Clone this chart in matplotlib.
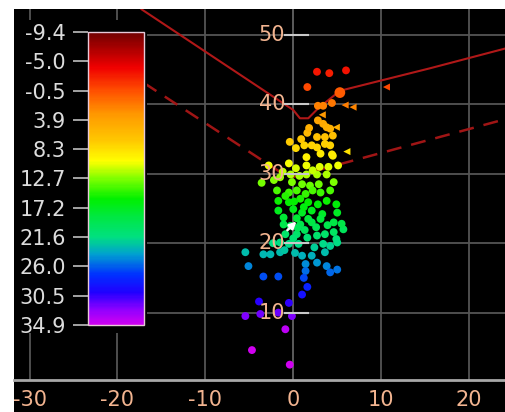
import matplotlib
matplotlib.use("Agg")
import matplotlib.pyplot as plt
from matplotlib.colors import LinearSegmentedColormap, Normalize
from matplotlib.patches import Rectangle
import matplotlib.colorbar as mcolorbar

plt.rcParams['font.family'] = ['DejaVu Sans']

# ---------------- data ----------------
x_ticks = [-30, -20, -10, 0, 10, 20]
y_ticks = [10, 20, 30, 40, 50]
cbar_ticks = [-9.4, -5.0, -0.5, 3.9, 8.3, 12.7, 17.2, 21.6, 26.0, 30.5, 34.9]
cbar_labels = ["-9.4", "-5.0", "-0.5", "3.9", "8.3", "12.7", "17.2", "21.6", "26.0", "30.5", "34.9"]

# circle points
pts_x = [2.7, 4.1, 6.0, 1.6, 2.8, 3.4, 4.4,
         2.8, 3.4, 3.8, 4.2, 1.6, 2.7, 3.6, 4.5,
         -0.4, 0.3, 1.25, 2.1, 2.7, 3.6, 4.2, 3.1, 4.4, 1.5, 4.5,
         -2.8, -0.5, 1.5, 4.0, 5.1, 2.7, 3.8, -0.3, 0.7, 1.5,
         -3.6, -2.2, -1.5, -0.15, 1.0, 1.9, 2.9, 4.6,
         -1.85, -0.5, 0.4, 1.4, 2.2, 3.1, 4.2,
         -1.7, -0.5, 0.8, 1.7, 2.8, 3.8, 4.9,
         -1.7, 0.0, 1.0, 2.1, 3.3, 5.0,
         -1.1, 0.4, 1.7,
         -1.1, 0.8, 2.1, 3.1, 4.6, 5.7,
         -0.9, 0.4, 1.6, 2.7, 3.6, 4.9,
         -1.5, -0.5, 0.6, 3.4, 4.2, 5.0,
         -3.4, -2.6, -1.5, -5.45,
         1.0, 2.1, 1.4, 2.7, 3.8, 5.0, 4.2,
         -5.1, 1.4, 1.2, -3.4, -1.7,
         1.6, 1.0, -3.9, -0.5,
         -5.45, -3.75, -1.7, -0.15, -0.9, -4.7, -0.4,
         -0.9, 0.1, 1.2, 0.5, -0.3, 1.3, 0.0, 2.4, -2.3, -1.0, 0.2,
         2.6, 3.9, 3.6, 0.3, 2.2, -1.2, 3.0, 0.9, 1.8, 5.5, 4.6]
pts_y = [44.7, 44.5, 44.9, 42.5, 39.8, 39.8, 40.2,
         37.7, 37.2, 36.7, 36.5, 35.9, 35.3, 35.3, 35.5,
         34.6, 33.7, 34.1, 34.1, 33.8, 34.3, 34.1, 32.9, 32.8, 32.4, 32.6,
         31.2, 31.5, 31.2, 31.0, 31.2, 29.9, 29.9, 29.9, 29.7, 29.9,
         28.7, 29.1, 29.5, 28.8, 28.5, 28.3, 28.5, 28.8,
         27.6, 27.3, 27.6, 27.1, 27.6, 27.3, 27.6,
         26.1, 25.9, 26.4, 25.9, 25.6, 26.1, 25.6,
         24.7, 24.9, 24.4, 24.7, 24.2, 24.4,
         23.7, 23.6, 23.5,
         22.7, 22.7, 23.0, 23.5, 23.0, 22.0,
         21.3, 21.3, 20.8, 21.1, 21.3, 20.6,
         20.1, 19.9, 19.9, 19.9, 19.6, 20.1,
         18.4, 18.4, 18.7, 18.7,
         18.2, 18.2, 17.0, 17.2, 16.7, 16.2, 15.8,
         16.7, 16.0, 15.0, 15.2, 15.2,
         13.7, 12.6, 11.6, 11.4,
         9.5, 9.8, 10.0, 9.5, 7.6, 4.6, 2.5,
         26.8, 26.0, 25.2, 22.2, 22.5, 21.9, 20.7, 19.4, 20.0, 19.0, 18.6,
         22.3, 22.6, 18.7, 30.8, 30.5, 30.3, 31.0, 35.0, 36.6, 22.8, 21.6]

# highlighted larger point
big_x = [5.3]
big_y = [41.7]

# triangle points
tri_x = [10.6, 5.9, 6.8, 3.3, 4.9, 6.1]
tri_y = [42.5, 39.9, 39.6, 38.5, 36.7, 33.2]

# fitted lines
solid_x = [-17.26, 0.0, 0.76, 1.71, 2.84, 5.31, 15.55, 24.2]
solid_y = [53.7, 39.19, 38.0, 38.0, 39.44, 41.96, 45.2, 48.08]
dash_x = [-17.0, -0.46, 24.2]
dash_y = [43.1, 29.4, 37.9]

# ---------------- style ----------------
stops = [(0.00, "#d000f0"), (0.05, "#9000ff"), (0.11, "#2000ff"), (0.17, "#0030ff"),
         (0.24, "#00a0d0"), (0.30, "#00e080"), (0.37, "#00e840"), (0.43, "#00f000"),
         (0.50, "#80ff00"), (0.56, "#ffff00"), (0.63, "#ffc800"), (0.72, "#ff9800"),
         (0.80, "#ff5000"), (0.88, "#f00000"), (1.00, "#700000")]
cmap_up = LinearSegmentedColormap.from_list("rb", stops)
ynorm = Normalize(vmin=6.8, vmax=51.1)

W, H = 506, 412
fig = plt.figure(figsize=(W / 100, H / 100), dpi=100, facecolor="white")
fig.add_artist(Rectangle((14 / W, 0), 492 / W, (H - 9.3) / H, transform=fig.transFigure,
                         facecolor="black", edgecolor="none", zorder=-5))

ax = fig.add_axes([14 / W, (H - 380) / H, 492 / W, (380 - 9.3) / H])
ax.set_facecolor("black")
ax.set_xlim(-31.77, 24.2)
ax.set_ylim(0.29, 53.7)

for s in ["top", "right", "left"]:
    ax.spines[s].set_visible(False)
ax.spines["bottom"].set_color("#a8a8a8")
ax.spines["bottom"].set_linewidth(2)

ax.set_xticks(x_ticks)
ax.set_xticklabels([str(t) for t in x_ticks])
ax.set_yticks(y_ticks)
ax.tick_params(axis="x", length=0, pad=7, labelcolor="#f2b490", labelsize=15)
ax.tick_params(axis="y", length=0, labelleft=False)
ax.grid(True, color="#555555", lw=1.3, zorder=0)
ax.set_axisbelow(True)
ax.axvline(0, color="#8a8a8a", lw=1.4, zorder=0.5)

# lines
ax.plot(solid_x, solid_y, color="#b01818", lw=1.5, zorder=1)
ax.plot(dash_x, dash_y, color="#a01515", lw=1.8, ls=(0, (6, 4)), zorder=1)

# scatter
ax.scatter(pts_x, pts_y, c=pts_y, cmap=cmap_up, norm=ynorm, s=32, edgecolors="none", zorder=2)
ax.scatter(big_x, big_y, c=big_y, cmap=cmap_up, norm=ynorm, s=60, edgecolors="none", zorder=2)
ax.scatter(tri_x, tri_y, c=tri_y, cmap=cmap_up, norm=ynorm, s=26, marker="<",
           edgecolors="none", zorder=2)

# white cursor arrow
ax.annotate("", xy=(0.6, 23.4), xytext=(-0.9, 21.6),
            arrowprops=dict(arrowstyle="-|>", color="white", lw=1.8, mutation_scale=10),
            zorder=4)

# y tick marks and labels on the x=0 axis
for t in y_ticks:
    ax.plot([-0.94, 1.68], [t, t], color="#c8c8c8", lw=1.5, zorder=4)
    ax.text(-0.94, t, str(t), ha="right", va="center", color="#f2b490",
            fontsize=15, zorder=5)

# black box behind the colour bar
fig.add_artist(Rectangle((14 / W, (H - 333) / H), 133 / W, 313 / H, transform=fig.transFigure,
                         facecolor="black", edgecolor="none", zorder=1))

cax = fig.add_axes([88 / W, (H - 325) / H, 56 / W, 293 / H])
cax.set_zorder(3)
cb = mcolorbar.ColorbarBase(cax, cmap=cmap_up.reversed(), norm=Normalize(-9.4, 34.9),
                            orientation="vertical")
cax.invert_yaxis()
cb.set_ticks(cbar_ticks)
cb.set_ticklabels(cbar_labels)
cax.yaxis.set_ticks_position("left")
cax.yaxis.set_label_position("left")
cax.tick_params(axis="y", length=11, width=1.3, color="#b0b0b0", pad=5,
                labelcolor="#dcdcdc", labelsize=15)
cb.outline.set_edgecolor("#e8c8d8")
cb.outline.set_linewidth(1)

fig.savefig("out.png", dpi=100, facecolor="white")
